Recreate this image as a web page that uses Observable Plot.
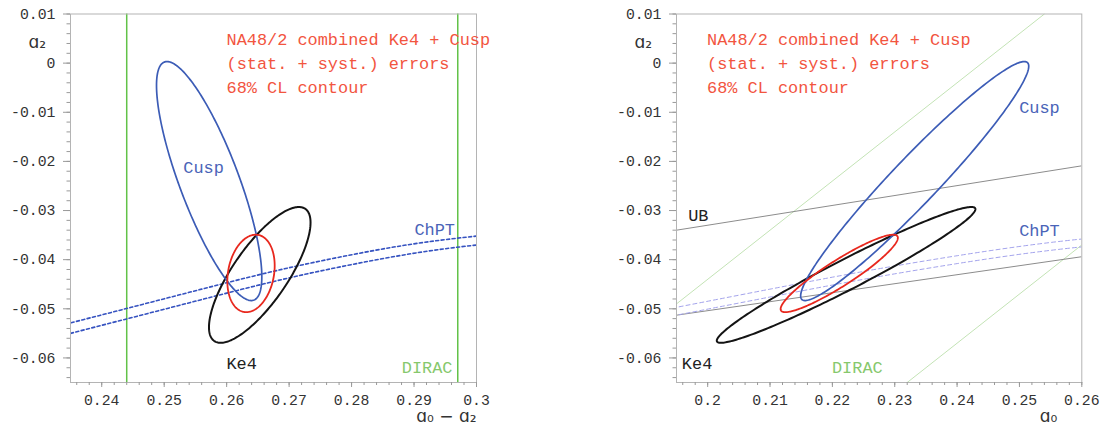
<!DOCTYPE html>
<html>
<head>
<meta charset="utf-8">
<script src="https://cdn.jsdelivr.net/npm/d3@7"></script>
<script src="https://cdn.jsdelivr.net/npm/@observablehq/plot@0.6"></script>
<style>
  html, body { margin: 0; padding: 0; background: #fff; }
  #wrap { position: relative; width: 1104px; height: 434px; background: #fff; overflow: hidden; }
  #left { position: absolute; left: 0; top: 0; }
  #right { position: absolute; left: 552px; top: 0; }
</style>
</head>
<body>
<div id="wrap"><div id="left"></div><div id="right"></div></div>
<script>
// ---- 68% CL contours, parametrised in (a0 - a2, a2) ----
const contourNames = ["Ke4", "Cusp", "Combined"];
const centerDiff   = [0.2653, 0.2572, 0.2639];   // a0 - a2
const centerA2     = [-0.0431, -0.0240, -0.0428];
const sigmaDiff    = [0.00813, 0.00843, 0.00379];
const sigmaA2      = [0.01382, 0.02432, 0.00788];
const correlation  = [0.77, -0.80, 0.20];

// ---- ChPT band (a0, a2 upper / lower) ----
const chptA0    = [0.18, 0.195, 0.21, 0.225, 0.24, 0.255, 0.27];
const chptUpper = [-0.0534, -0.0497, -0.0460, -0.0424, -0.0392, -0.0365, -0.0346];
const chptLower = [-0.0550, -0.0513, -0.0476, -0.0440, -0.0408, -0.0381, -0.0362];

// ---- Universal band (a0, a2) ----
const ubA0    = [0.195, 0.26];
const ubUpper = [-0.0340, -0.0209];
const ubLower = [-0.0513, -0.0394];

// ---- DIRAC bounds on a0 - a2 ----
const diracBounds = [0.244, 0.297];

// ---- axes ----
const yTicks      = [0.01, 0, -0.01, -0.02, -0.03, -0.04, -0.05, -0.06];
const xTicksLeft  = [0.24, 0.25, 0.26, 0.27, 0.28, 0.29, 0.3];
const xTicksRight = [0.2, 0.21, 0.22, 0.23, 0.24, 0.25, 0.26];
const annotation  = ["NA48/2 combined Ke4 + Cusp", "(stat. + syst.) errors", "68% CL contour"];

const yDomain = [-0.065, 0.01];
const fmt = d => String(Math.round(d * 1000) / 1000);
const yMinor = d3.range(-0.064, 0.0101, 0.002);

const colors = {Ke4: "#141414", Cusp: "#3c5cb6", Combined: "#e8281e"};
const widths = {Ke4: 2, Cusp: 1.7, Combined: 1.8};

function contourPoints(toX) {
  const pts = [];
  const n = 240;
  contourNames.forEach((name, i) => {
    const s = Math.sqrt(1 - correlation[i] ** 2);
    for (let k = 0; k <= n; k++) {
      const t = 2 * Math.PI * k / n;
      const d = centerDiff[i] + sigmaDiff[i] * Math.cos(t);
      const a2 = centerA2[i] + sigmaA2[i] * (correlation[i] * Math.cos(t) + s * Math.sin(t));
      pts.push({name, x: toX(d, a2), y: a2});
    }
  });
  return pts;
}

function chptPoints(toX) {
  const pts = [];
  chptA0.forEach((a0, i) => {
    pts.push({band: "upper", x: toX(a0, chptUpper[i]), y: chptUpper[i]});
  });
  chptA0.forEach((a0, i) => {
    pts.push({band: "lower", x: toX(a0, chptLower[i]), y: chptLower[i]});
  });
  return pts;
}

function ellipseMarks(pts) {
  return contourNames.map(name => Plot.line(pts.filter(p => p.name === name), {
    x: "x", y: "y", stroke: colors[name], strokeWidth: widths[name], clip: true
  }));
}

function axesMarks(xTicks, xMinor) {
  return [
    Plot.frame({stroke: "#b4b4b4"}),
    Plot.axisY(yMinor, {tickSize: 3.5, stroke: "#9a9a9a", fill: "none", label: null}),
    Plot.axisY(yTicks, {tickSize: 7, tickPadding: 8, stroke: "#9a9a9a", fill: "#333", tickFormat: fmt, label: null}),
    Plot.axisX(xMinor, {tickSize: 3, stroke: "#9a9a9a", fill: "none", label: null}),
    Plot.axisX(xTicks, {tickSize: 5, tickPadding: 7, stroke: "#9a9a9a", fill: "#333", tickFormat: fmt, label: null})
  ];
}

const common = {
  width: 552, height: 434,
  marginTop: 13.5, marginBottom: 52,
  y: {domain: yDomain},
  style: {fontFamily: "'Liberation Mono', 'DejaVu Sans Mono', monospace", fontSize: "14.8px", color: "#333", background: "#fff"}
};
const labelFont = {fontFamily: "'Liberation Mono', 'DejaVu Sans Mono', monospace", fontSize: 16.9};
const symFont = {fontFamily: "'DejaVu Sans', sans-serif", fontSize: 17};

// ---------------- LEFT PANEL: (a0 - a2, a2) ----------------
const leftContours = contourPoints((d, a2) => d);
const leftChpt = chptPoints((a0, a2) => a0 - a2);

const left = Plot.plot({
  ...common,
  marginLeft: 70, marginRight: 76,
  x: {domain: [0.235, 0.3]},
  marks: [
    Plot.ruleX(diracBounds, {stroke: "#62c248", strokeWidth: 1.5}),
    ...["upper", "lower"].map(b => Plot.line(leftChpt.filter(p => p.band === b), {
      x: "x", y: "y", stroke: "#3552c0", strokeWidth: 1.6, strokeDasharray: "3,2.5", curve: "natural", clip: true
    })),
    ...ellipseMarks(leftContours),
    ...axesMarks(xTicksLeft, d3.range(0.236, 0.3001, 0.002)),
    Plot.text([annotation.join("\n")], {frameAnchor: "top-left", dx: 156, dy: 13.4, lineAnchor: "top", textAnchor: "start", lineHeight: 1.43, fill: "#f2553f", ...labelFont}),
    Plot.text(["Cusp"], {x: 0.2563, y: -0.0212, fill: "#4a64b8", ...labelFont}),
    Plot.text(["ChPT"], {x: 0.2933, y: -0.0339, fill: "#4a64b8", ...labelFont}),
    Plot.text(["Ke4"], {x: 0.2624, y: -0.0611, fill: "#222", ...labelFont}),
    Plot.text(["DIRAC"], {x: 0.2921, y: -0.0620, fill: "#86c86c", ...labelFont}),
    Plot.text(["ɑ₂"], {frameAnchor: "top-left", dx: -42, dy: 21.5, fill: "#333", ...symFont}),
    Plot.text(["ɑ₀ − ɑ₂"], {frameAnchor: "bottom-right", dx: 0, dy: 39.5, fill: "#333", ...symFont})
  ]
});
document.getElementById("left").appendChild(left);

// ---------------- RIGHT PANEL: (a0, a2) ----------------
const rightContours = contourPoints((d, a2) => d + a2);
const rightChpt = chptPoints((a0, a2) => a0);
const diracLines = diracBounds.flatMap(c => [
  {c, x: c + yDomain[0], y: yDomain[0]},
  {c, x: c + yDomain[1], y: yDomain[1]}
]);
const ubPoints = [
  ...ubA0.map((a0, i) => ({band: "upper", x: a0, y: ubUpper[i]})),
  ...ubA0.map((a0, i) => ({band: "lower", x: a0, y: ubLower[i]}))
];

const right = Plot.plot({
  ...common,
  marginLeft: 124, marginRight: 22.7,
  x: {domain: [0.195, 0.26]},
  marks: [
    Plot.line(diracLines, {x: "x", y: "y", z: "c", stroke: "#c3e3b5", strokeWidth: 1, clip: true}),
    Plot.line(ubPoints, {x: "x", y: "y", z: "band", stroke: "#8c8c8c", strokeWidth: 1, clip: true}),
    ...["upper", "lower"].map(b => Plot.line(rightChpt.filter(p => p.band === b), {
      x: "x", y: "y", stroke: "#a3a3ec", strokeWidth: 1, strokeDasharray: "4,3", curve: "natural", clip: true
    })),
    ...ellipseMarks(rightContours),
    ...axesMarks(xTicksRight, d3.range(0.196, 0.2601, 0.002)),
    Plot.text([annotation.join("\n")], {frameAnchor: "top-left", dx: 30.5, dy: 13.4, lineAnchor: "top", textAnchor: "start", lineHeight: 1.43, fill: "#f2553f", ...labelFont}),
    Plot.text(["UB"], {x: 0.1985, y: -0.0310, fill: "#222", ...labelFont}),
    Plot.text(["Cusp"], {x: 0.2532, y: -0.0090, fill: "#4a64b8", ...labelFont}),
    Plot.text(["ChPT"], {x: 0.2532, y: -0.0340, fill: "#4a64b8", ...labelFont}),
    Plot.text(["Ke4"], {x: 0.1983, y: -0.0611, fill: "#222", ...labelFont}),
    Plot.text(["DIRAC"], {x: 0.2240, y: -0.0619, fill: "#86c86c", ...labelFont}),
    Plot.text(["ɑ₂"], {frameAnchor: "top-left", dx: -42, dy: 21.5, fill: "#333", ...symFont}),
    Plot.text(["ɑ₀"], {frameAnchor: "bottom-right", dx: -24.5, dy: 39.5, fill: "#333", ...symFont})
  ]
});
document.getElementById("right").appendChild(right);
</script>
</body>
</html>
